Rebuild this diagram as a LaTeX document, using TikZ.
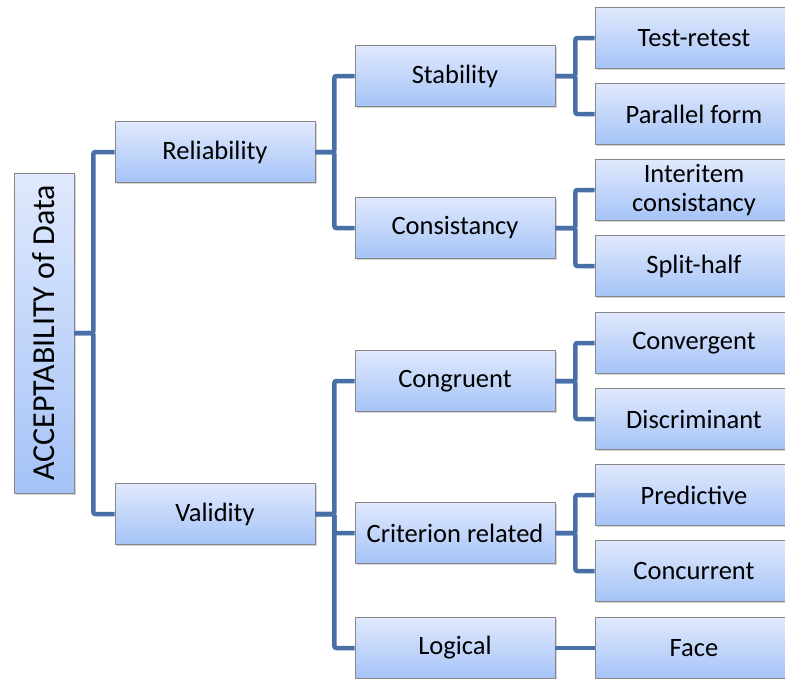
\documentclass[tikz,border=0pt]{standalone}
\usepackage{fontspec}
\setmainfont{Carlito}
\usetikzlibrary{shadows}
\definecolor{boxtop}{RGB}{224,233,253}
\definecolor{boxbot}{RGB}{165,195,247}
\definecolor{boxline}{RGB}{135,135,135}
\definecolor{wire}{RGB}{72,112,166}

\begin{document}
\begin{tikzpicture}[x=1pt,y=-1pt,
  box/.style={draw=boxline,line width=0.8pt,top color=boxtop,bottom color=boxbot,
    minimum width=200pt,minimum height=61pt,inner sep=1pt,align=center,
    font=\fontsize{26.5}{29}\selectfont,
    drop shadow={shadow xshift=1.5pt,shadow yshift=-1.5pt,opacity=0.35}},
  leaf/.style={box,minimum width=198pt},
  link/.style={draw=wire,line width=4.5pt,rounded corners=2pt}]
  \useasboundingbox (0,0) rectangle (785,678);
  % root
  \node[box,minimum width=60pt,minimum height=320pt] (root) at (44,333)
     {\rotatebox{90}{\fontsize{32}{34}\selectfont ACCEPTABILITY of Data}};
  % first level
  \node[box] (rel) at (215,152) {Reliability};
  \node[box] (val) at (215,514) {Validity};
  % second level
  \node[box] (stab) at (455,76)  {Stability};
  \node[box] (cons) at (455,228) {Consistancy};
  \node[box] (cong) at (455,381) {Congruent};
  \node[box] (crit) at (455,533) {Criterion related};
  \node[box] (logi) at (455,648) {Logical};
  % leaves
  \node[leaf] (tr)   at (694,38)  {Test-retest};
  \node[leaf] (pf)   at (694,114) {Parallel form};
  \node[leaf] (ii)   at (694,190) {Interitem\\consistancy};
  \node[leaf] (sh)   at (694,266) {Split-half};
  \node[leaf] (conv) at (694,343) {Convergent};
  \node[leaf] (disc) at (694,419) {Discriminant};
  \node[leaf] (pred) at (694,495) {Predictive};
  \node[leaf] (conc) at (694,571) {Concurrent};
  \node[leaf] (face) at (694,648) {Face};
  % connectors
  \foreach \a/\b in {root/rel,root/val,rel/stab,rel/cons,val/cong,val/crit,val/logi}
    \draw[link] (\a.east) -- ++(19,0) |- (\b.west);
  \foreach \a/\b in {stab/tr,stab/pf,cons/ii,cons/sh,cong/conv,cong/disc,crit/pred,crit/conc}
    \draw[link] (\a.east) -- ++(20,0) |- (\b.west);
  \draw[link] (logi) -- (face);
\end{tikzpicture}
\end{document}
